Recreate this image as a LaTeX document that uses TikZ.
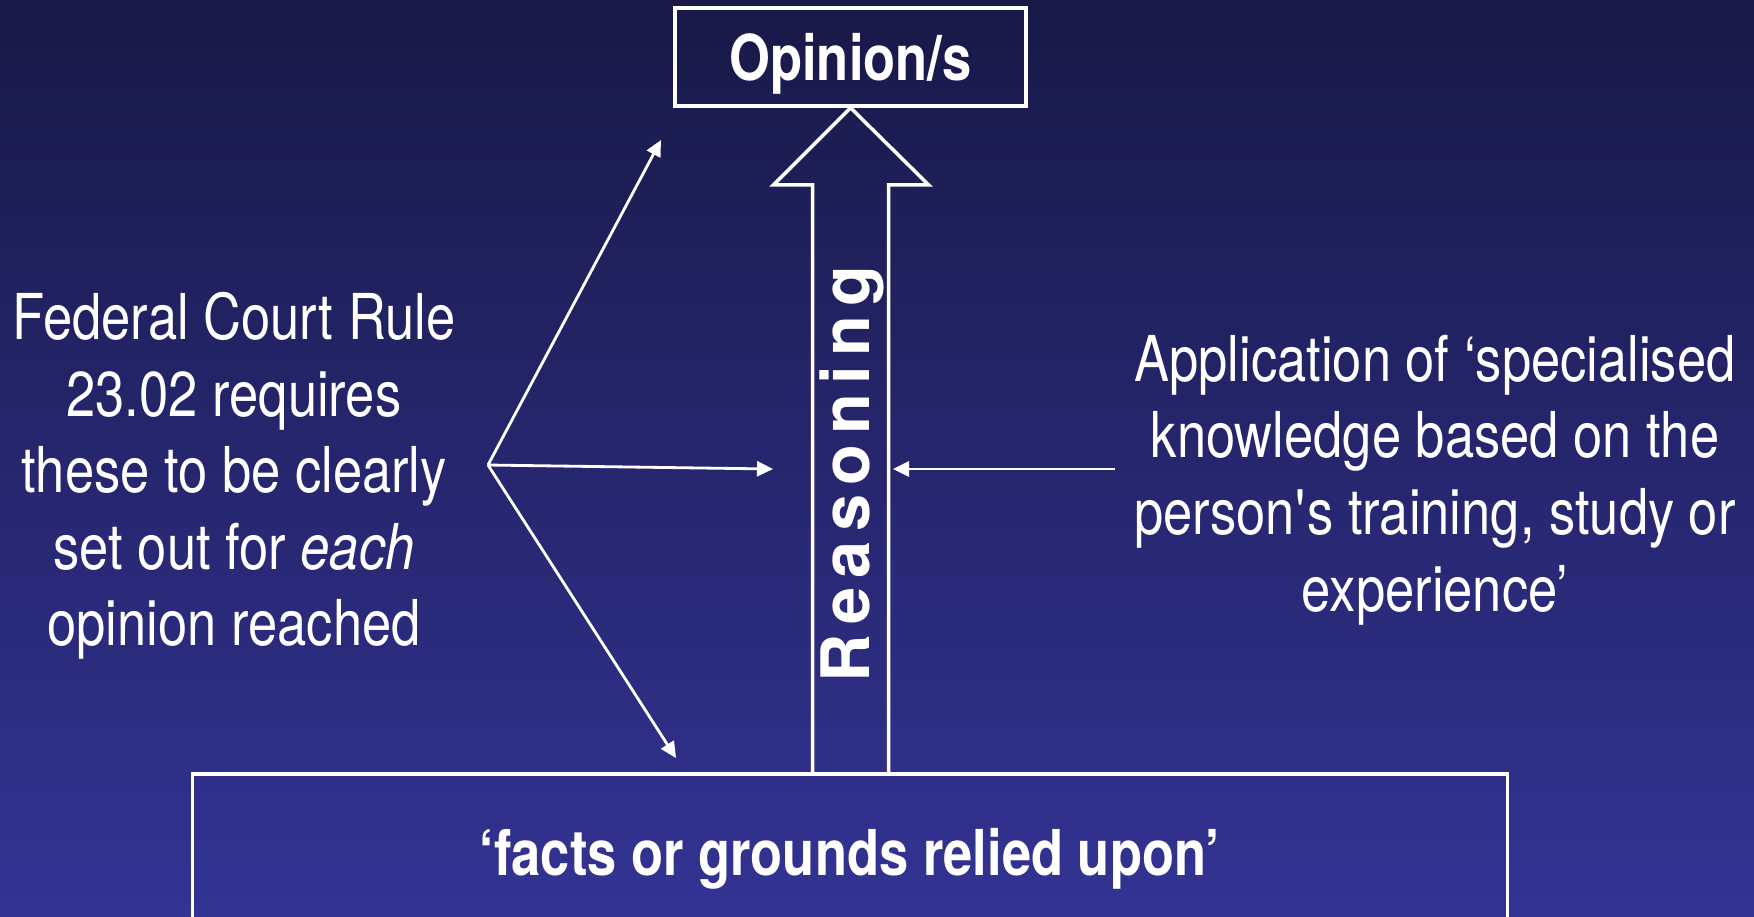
\documentclass[tikz,border=0pt]{standalone}
\usepackage{fontspec}
\setmainfont{TeX Gyre Heros}[FakeStretch=0.83]
\newfontfamily\spacedheros{TeX Gyre Heros}[LetterSpace=14]
\usetikzlibrary{arrows.meta, positioning, calc}
\definecolor{bgtop}{RGB}{24,25,71}
\definecolor{bgbot}{RGB}{51,51,148}
\tikzset{
  headbox/.style={
    rectangle, draw=white, line width=1pt, text=white,
    minimum width=35.1mm, minimum height=9.8mm, inner sep=0pt,
    text depth=0pt, font=\fontsize{18}{22}\selectfont\bfseries
  },
  basebox/.style={
    rectangle, draw=white, line width=1pt, text=white,
    minimum width=131.5mm, minimum height=15.6mm, inner sep=0pt,
    text depth=0pt, font=\fontsize{18}{22}\selectfont\bfseries
  },
  notetext/.style={
    text=white, align=center, inner sep=0pt,
    font=\fontsize{18}{21.8}\selectfont
  },
  fanarr/.style={-{Triangle[length=1.6mm, width=1.5mm]}, draw=white, line width=0.8pt},
  bigarrow/.style={draw=white, line width=1pt, line join=miter}
}

\begin{document}
\begin{tikzpicture}[x=0.1mm, y=-0.1mm]

% ── Canvas with vertical shading ────────────────────────────
\clip (0,0) rectangle (1754,916);
\shade[top color=bgtop, bottom color=bgbot] (0,0) rectangle (1754,916);

% ── Boxes ───────────────────────────────────────────────────
\node[headbox] (opinion) at (850.5,57) {Opinion/s};
\node[basebox] (facts) at (850,852) {‘facts or grounds relied upon’};

% ── Side notes ──────────────────────────────────────────────
\node[notetext] (rule) at (234,476) {%
  Federal Court Rule\\
  23.02 requires\\
  these to be clearly\\
  set out for \textit{each}\\
  opinion reached
};

\node[notetext] (know) at (1435,480) {%
  Application of ‘specialised\\
  knowledge based on the\\
  person\textquotesingle s training, study or\\
  experience’
};

% ── Hollow reasoning arrow ──────────────────────────────────
\coordinate (tip) at (opinion.south);
\draw[bigarrow] (tip) ++(-38,667) -- ++(0,-590) -- ++(-39,0)
  -- (tip) -- ++(78,77) -- ++(-40,0) -- ++(0,590);

\node[rotate=90, text=white, inner sep=0pt,
      font=\fontsize{19}{23}\spacedheros\bfseries] (reason) at (852,474) {Reasoning};

% ── Fan from the rule note ──────────────────────────────────
\coordinate (fan)    at (488,465);
\coordinate (uptip)  at (661,140);
\coordinate (midtip) at (773,469);
\coordinate (lowtip) at (676,758);

\draw[fanarr] (fan) -- (uptip);
\draw[fanarr] (fan) -- (midtip);
\draw[fanarr] (fan) -- (lowtip);

% ── Knowledge arrow into the shaft ──────────────────────────
\coordinate (kstart) at (1115,469);
\coordinate (ktip)   at (893,469);
\draw[fanarr] (kstart) -- (ktip);

\end{tikzpicture}
\end{document}
